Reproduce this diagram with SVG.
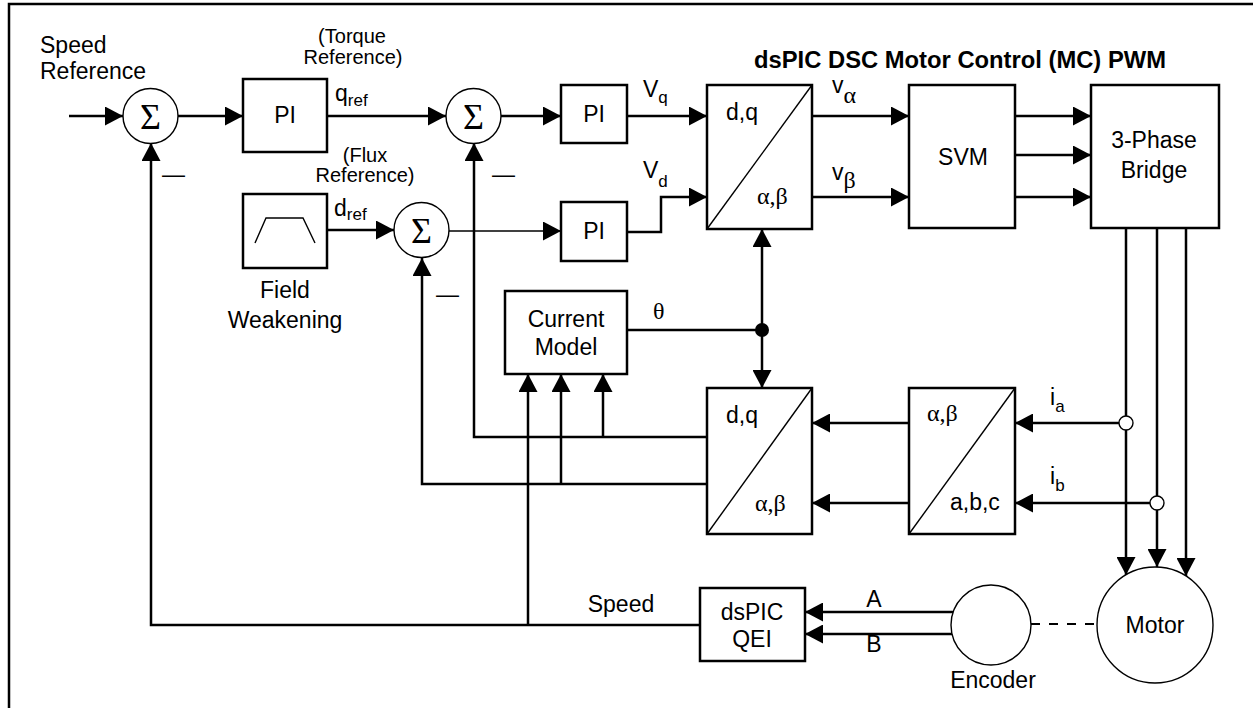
<svg xmlns="http://www.w3.org/2000/svg" width="1253" height="708" viewBox="0 0 1253 708">
<style>
.t{font-family:"Liberation Sans",Arial,sans-serif;font-size:23px;fill:#000}
.s{font-family:"Liberation Sans",Arial,sans-serif;font-size:20px;fill:#000}
.g{font-family:"Liberation Serif","Times New Roman",serif;font-size:24px;fill:#000}
.sig{font-family:"Liberation Serif","DejaVu Serif",serif;font-size:36px;fill:#000}
.b{fill:#fff;stroke:#000;stroke-width:2.5}
.c{fill:#fff;stroke:#000;stroke-width:1.4}
.w{fill:none;stroke:#000;stroke-width:2.5}
.th{fill:none;stroke:#000;stroke-width:1.4}
</style>
<defs>
<marker id="ah" markerUnits="userSpaceOnUse" markerWidth="18" markerHeight="19" viewBox="0 0 18 19" refX="18" refY="9.5" orient="auto">
<path d="M0,0 L18,9.5 L0,19 Z" fill="#000"/>
</marker>
</defs>
<rect x="9" y="4" width="1260" height="720" fill="#fff" stroke="#000" stroke-width="2.5"/>

<g id="connectors">
<path class="w" d="M69,116 H123" marker-end="url(#ah)"/>
<path class="w" d="M178,116 H243" marker-end="url(#ah)"/>
<path class="w" d="M327,116 H446" marker-end="url(#ah)"/>
<path class="w" d="M501,116 H561" marker-end="url(#ah)"/>
<path class="w" d="M627,116 H707" marker-end="url(#ah)"/>
<path class="w" d="M327,230 H394" marker-end="url(#ah)"/>
<path class="th" d="M449,231 H561" marker-end="url(#ah)"/>
<path class="w" d="M627,232 H661 V197 H707" marker-end="url(#ah)"/>
<path class="w" d="M812,116 H909" marker-end="url(#ah)"/>
<path class="w" d="M812,197 H909" marker-end="url(#ah)"/>
<path class="w" d="M1015,116 H1091" marker-end="url(#ah)"/>
<path class="w" d="M1015,155 H1091" marker-end="url(#ah)"/>
<path class="w" d="M1015,197 H1091" marker-end="url(#ah)"/>
<path class="w" d="M1126,228 V575" marker-end="url(#ah)"/>
<path class="w" d="M1157,228 V567" marker-end="url(#ah)"/>
<path class="w" d="M1186,228 V576" marker-end="url(#ah)"/>
<path class="w" d="M627,330 H762"/>
<path class="w" d="M762,330 V229" marker-end="url(#ah)"/>
<path class="w" d="M762,330 V388" marker-end="url(#ah)"/>
<circle cx="762" cy="330" r="7" fill="#000"/>
<path class="w" d="M1119,423 H1015" marker-end="url(#ah)"/>
<path class="w" d="M1150,503 H1015" marker-end="url(#ah)"/>
<circle class="c" cx="1126" cy="423" r="7" fill="none"/>
<circle class="c" cx="1157" cy="503" r="7" fill="none"/>
<path class="w" d="M909,423 H812" marker-end="url(#ah)"/>
<path class="w" d="M909,503 H812" marker-end="url(#ah)"/>
<path class="w" d="M707,437 H474 V143" marker-end="url(#ah)"/>
<path class="w" d="M603,437 V374" marker-end="url(#ah)"/>
<path class="w" d="M707,484 H422 V258" marker-end="url(#ah)"/>
<path class="w" d="M561,484 V374" marker-end="url(#ah)"/>
<path class="w" d="M700,625 H151 V143" marker-end="url(#ah)"/>
<path class="w" d="M528,625 V374" marker-end="url(#ah)"/>
<path class="w" d="M953,612 H805" marker-end="url(#ah)"/>
<path class="w" d="M953,634 H805" marker-end="url(#ah)"/>
<path fill="none" stroke="#000" stroke-width="2" stroke-dasharray="9,9" d="M1031,624 H1097"/>
</g>

<g id="sum1"><circle class="c" cx="150.5" cy="116" r="27.5"/><text class="sig" x="150.5" y="129" text-anchor="middle">Σ</text></g>
<g id="sum2"><circle class="c" cx="473.5" cy="116" r="27.5"/><text class="sig" x="473.5" y="129" text-anchor="middle">Σ</text></g>
<g id="sum3"><circle class="c" cx="421.5" cy="230" r="27.5"/><text class="sig" x="421.5" y="243" text-anchor="middle">Σ</text></g>

<g id="pi1"><rect class="b" x="243" y="79" width="84" height="73"/><text class="t" x="285" y="123" text-anchor="middle">PI</text></g>
<g id="pi2"><rect class="b" x="561" y="85" width="66" height="58"/><text class="t" x="594" y="122" text-anchor="middle">PI</text></g>
<g id="pi3"><rect class="b" x="561" y="202" width="66" height="59"/><text class="t" x="594" y="239" text-anchor="middle">PI</text></g>

<g id="fieldweakening"><rect class="b" x="243" y="194" width="84" height="74"/><polyline class="th" points="255,243 266,218 303,218 315,243"/>
<text class="t" x="285" y="298" text-anchor="middle">Field</text><text class="t" x="285" y="328" text-anchor="middle">Weakening</text></g>

<g id="park"><rect class="b" x="707" y="85" width="105" height="144"/><path class="th" d="M707,229 L812,85"/>
<text class="t" x="726" y="120">d,q</text><text class="g" x="757" y="204">α,β</text></g>

<g id="svm"><rect class="b" x="909" y="85" width="106" height="143"/><text class="t" x="963" y="165" text-anchor="middle">SVM</text></g>

<g id="bridge"><rect class="b" x="1091" y="85" width="128" height="143"/><text class="t" x="1154" y="148" text-anchor="middle">3-Phase</text><text class="t" x="1154" y="178" text-anchor="middle">Bridge</text></g>

<g id="currentmodel"><rect class="b" x="505" y="291" width="122" height="83"/><text class="t" x="566" y="327" text-anchor="middle">Current</text><text class="t" x="566" y="355" text-anchor="middle">Model</text></g>

<g id="invpark"><rect class="b" x="707" y="388" width="105" height="146"/><path class="th" d="M707,534 L812,388"/>
<text class="t" x="726" y="423">d,q</text><text class="g" x="755" y="511">α,β</text></g>

<g id="clarke"><rect class="b" x="909" y="388" width="106" height="146"/><path class="th" d="M909,534 L1015,388"/>
<text class="g" x="927" y="421">α,β</text><text class="t" x="950" y="510">a,b,c</text></g>

<g id="qei"><rect class="b" x="700" y="588" width="105" height="73"/><text class="t" x="752" y="620" text-anchor="middle">dsPIC</text><text class="t" x="752" y="647" text-anchor="middle">QEI</text></g>

<g id="encoder"><circle class="c" cx="991" cy="625" r="40"/><text class="t" x="993" y="688" text-anchor="middle">Encoder</text></g>
<g id="motor"><circle class="c" cx="1155" cy="625" r="58"/><text class="t" x="1155" y="633" text-anchor="middle">Motor</text></g>

<g id="labels">
<text class="t" x="40" y="53">Speed</text>
<text class="t" x="40" y="79">Reference</text>
<text class="s" x="352" y="43" text-anchor="middle">(Torque</text>
<text class="s" x="353" y="64" text-anchor="middle">Reference)</text>
<text class="s" x="365" y="162" text-anchor="middle">(Flux</text>
<text class="s" x="365" y="182" text-anchor="middle">Reference)</text>
<text class="t" x="335" y="101">q<tspan font-size="17" dy="5">ref</tspan></text>
<text class="t" x="334" y="216">d<tspan font-size="17" dy="4">ref</tspan></text>
<text class="t" x="643" y="97">V<tspan font-size="17" dy="6">q</tspan></text>
<text class="t" x="643" y="178">V<tspan font-size="17" dy="9">d</tspan></text>
<text class="t" x="832" y="93">v<tspan class="g" font-size="20" dy="10">α</tspan></text>
<text class="t" x="832" y="180">v<tspan class="g" font-size="20" dy="8">β</tspan></text>
<text class="t" font-weight="bold" font-size="23" x="754" y="68" textLength="412" lengthAdjust="spacingAndGlyphs">dsPIC DSC Motor Control (MC) PWM</text>
<text class="g" x="653" y="319">θ</text>
<text class="t" x="1050" y="405">i<tspan font-size="17" dy="7">a</tspan></text>
<text class="t" x="1050" y="484">i<tspan font-size="17" dy="7">b</tspan></text>
<text class="t" x="621" y="612" text-anchor="middle">Speed</text>
<text class="t" x="874" y="607" text-anchor="middle">A</text>
<text class="t" x="874" y="652" text-anchor="middle">B</text>
<text class="t" font-size="18" x="162" y="182">—</text>
<text class="t" font-size="18" x="492" y="182">—</text>
<text class="t" font-size="18" x="436" y="302">—</text>
</g>
</svg>
